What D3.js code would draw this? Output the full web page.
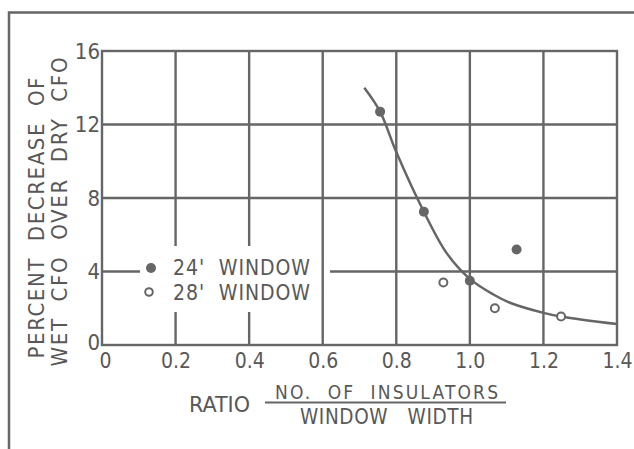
<!DOCTYPE html>
<html>
<head>
<meta charset="utf-8">
<script src="https://cdn.jsdelivr.net/npm/d3@7"></script>
<style>
  html, body { margin: 0; padding: 0; background: #ffffff; }
  svg { display: block; }
  text { font-family: 'DejaVu Sans Condensed', 'DejaVu Sans', sans-serif; font-stretch: condensed; fill: #585858; }
</style>
</head>
<body>
<script>
// ---- data ----
const xTicks = [0, 0.2, 0.4, 0.6, 0.8, 1.0, 1.2, 1.4];
const xTickLabels = ["0", "0.2", "0.4", "0.6", "0.8", "1.0", "1.2", "1.4"];
const yTicks = [0, 4, 8, 12, 16];
const yTickLabels = ["0", "4", "8", "12", "16"];

const win24X = [0.756, 0.875, 1.0, 1.127];
const win24Y = [12.7, 7.25, 3.5, 5.2];
const win28X = [0.928, 1.068, 1.248];
const win28Y = [3.4, 2.0, 1.55];

const curveX = [0.713, 0.756, 0.80, 0.875, 0.937, 1.0, 1.064, 1.109, 1.2, 1.25, 1.4];
const curveY = [14.0, 12.7, 10.5, 7.25, 5.0, 3.6, 2.75, 2.3, 1.75, 1.54, 1.14];

const legendLabels = ["24'  WINDOW", "28'  WINDOW"];
const yTitle = ["PERCENT  DECREASE  OF", "WET  CFO  OVER  DRY  CFO"];
const xTitle = "RATIO";
const xNum = "NO.  OF  INSULATORS";
const xDen = "WINDOW   WIDTH";

// ---- layout ----
const W = 634, H = 449;
const ink = "#666666";
const L = 102, R = 617, T = 51, B = 345;
const FONT = "'DejaVu Sans Condensed', 'DejaVu Sans', sans-serif";

const svg = d3.select("body").append("svg").attr("width", W).attr("height", H);

const x = d3.scaleLinear().domain([0, 1.4]).range([L, R]);
const y = d3.scaleLinear().domain([0, 16]).range([B, T]);

// outer frame (top and left edges)
svg.append("path")
  .attr("d", `M9,449 L9,12.5 L634,12.5`)
  .attr("fill", "none").attr("stroke", ink).attr("stroke-width", 2.5);

// legend gap region (pixels)
const gap = { left: 140, right: 330, top: 246, bottom: 312 };

const grid = svg.append("g").attr("stroke", ink).attr("stroke-width", 2.4).attr("fill", "none");

// vertical grid lines
xTicks.slice(1, -1).forEach(t => {
  const px = x(t);
  if (px > gap.left && px < gap.right - 10) {
    grid.append("line").attr("x1", px).attr("x2", px).attr("y1", y(16)).attr("y2", gap.top);
    grid.append("line").attr("x1", px).attr("x2", px).attr("y1", gap.bottom).attr("y2", y(0));
  } else {
    grid.append("line").attr("x1", px).attr("x2", px).attr("y1", y(16)).attr("y2", y(0));
  }
});
// horizontal grid lines
yTicks.slice(1, -1).forEach(t => {
  const py = y(t);
  if (py > gap.top && py < gap.bottom) {
    grid.append("line").attr("x1", x(0)).attr("x2", gap.left).attr("y1", py).attr("y2", py);
    grid.append("line").attr("x1", gap.right).attr("x2", x(1.4)).attr("y1", py).attr("y2", py);
  } else {
    grid.append("line").attr("x1", x(0)).attr("x2", x(1.4)).attr("y1", py).attr("y2", py);
  }
});
// plot border
grid.append("rect").attr("x", x(0)).attr("y", y(16))
  .attr("width", x(1.4) - x(0)).attr("height", y(0) - y(16));

// axes (labels only)
const xAxis = svg.append("g").attr("transform", `translate(0,${B + 5})`)
  .call(d3.axisBottom(x).tickValues(xTicks).tickSize(0).tickFormat((d, i) => xTickLabels[i]));
xAxis.select(".domain").remove();
xAxis.selectAll("text").attr("font-size", 21).attr("fill", "#585858").style("font-family", FONT)
  .attr("x", d => d === 0 ? 3 : 0);

const yAxis = svg.append("g").attr("transform", `translate(${L - 1},0)`)
  .call(d3.axisLeft(y).tickValues(yTicks).tickSize(0).tickPadding(1).tickFormat((d, i) => yTickLabels[i]));
yAxis.select(".domain").remove();
yAxis.selectAll("text").attr("font-size", 22).attr("fill", "#585858").style("font-family", FONT)
  .attr("y", d => d === 0 ? -3 : 0);

// curve
const curvePts = curveX.map((d, i) => [d, curveY[i]]);
svg.append("path")
  .datum(curvePts)
  .attr("d", d3.line().x(d => x(d[0])).y(d => y(d[1])).curve(d3.curveCatmullRom.alpha(0.5)))
  .attr("fill", "none").attr("stroke", ink).attr("stroke-width", 2.5);

// markers
svg.append("g").selectAll("circle").data(win24X.map((d, i) => [d, win24Y[i]]))
  .join("circle").attr("cx", d => x(d[0])).attr("cy", d => y(d[1])).attr("r", 5)
  .attr("fill", ink);
svg.append("g").selectAll("circle").data(win28X.map((d, i) => [d, win28Y[i]]))
  .join("circle").attr("cx", d => x(d[0])).attr("cy", d => y(d[1])).attr("r", 4)
  .attr("fill", "#fff").attr("stroke", ink).attr("stroke-width", 2);

// legend
const lg = svg.append("g");
lg.append("circle").attr("cx", 151).attr("cy", 268).attr("r", 5).attr("fill", ink);
lg.append("circle").attr("cx", 149).attr("cy", 292).attr("r", 3.8).attr("fill", "#fff")
  .attr("stroke", ink).attr("stroke-width", 2);
lg.append("text").attr("x", 173).attr("y", 275).attr("font-size", 21)
  .attr("textLength", 137).attr("lengthAdjust", "spacing")
  .style("white-space", "pre").text(legendLabels[0]);
lg.append("text").attr("x", 173).attr("y", 300).attr("font-size", 21)
  .attr("textLength", 137).attr("lengthAdjust", "spacing")
  .style("white-space", "pre").text(legendLabels[1]);

// y title
svg.append("text").attr("transform", "translate(44,218) rotate(-90)")
  .attr("text-anchor", "middle").attr("font-size", 22)
  .attr("textLength", 281).attr("lengthAdjust", "spacing")
  .style("white-space", "pre").text(yTitle[0]);
svg.append("text").attr("transform", "translate(67,212) rotate(-90)")
  .attr("text-anchor", "middle").attr("font-size", 22)
  .attr("textLength", 309).attr("lengthAdjust", "spacing")
  .style("white-space", "pre").text(yTitle[1]);

// x title
svg.append("text").attr("x", 189).attr("y", 412).attr("font-size", 22)
  .attr("textLength", 61).attr("lengthAdjust", "spacingAndGlyphs").text(xTitle);
svg.append("text").attr("x", 275).attr("y", 398.5).attr("font-size", 19)
  .attr("textLength", 223).attr("lengthAdjust", "spacing")
  .style("white-space", "pre").text(xNum);
svg.append("line").attr("x1", 265).attr("x2", 506).attr("y1", 402.5).attr("y2", 402.5)
  .attr("stroke", ink).attr("stroke-width", 2.2);
svg.append("text").attr("x", 300).attr("y", 423.5).attr("font-size", 20.5)
  .attr("textLength", 173).attr("lengthAdjust", "spacing")
  .style("white-space", "pre").text(xDen);
</script>
</body>
</html>
